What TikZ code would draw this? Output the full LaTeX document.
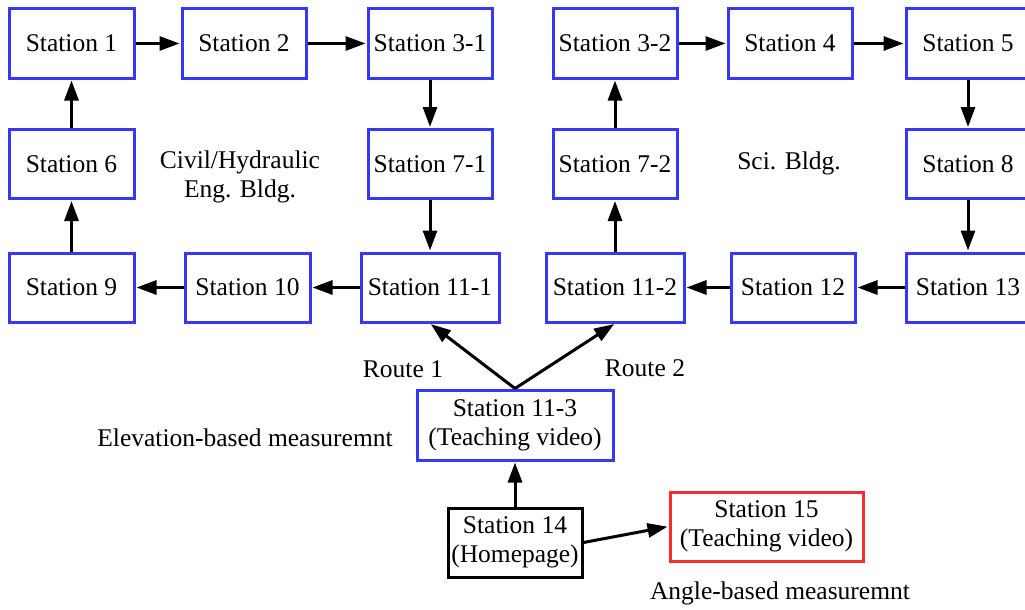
\documentclass[tikz,border=0pt]{standalone}
\usepackage{fontspec}
\setmainfont{Liberation Serif}
\usetikzlibrary{arrows.meta}
\definecolor{boxblue}{RGB}{55,55,250}
\definecolor{boxred}{RGB}{245,45,45}
\begin{document}
\begin{tikzpicture}[x=1pt,y=-1pt,
  every node/.style={font=\fontsize{25.5}{29}\selectfont, inner sep=0pt, align=center},
  st/.style={draw=boxblue, line width=3pt, minimum width=124pt, minimum height=69pt, fill=white},
  stw/.style={st, minimum width=138pt},
  conn/.style={line width=3pt, -{Triangle[length=20pt,width=14pt]}, shorten >=1pt}]
\useasboundingbox (0,0) rectangle (1025,610);
\clip (0,0) rectangle (1025,610);
% Left block
\node[st, minimum width=125pt] (s1) at (71.5,43.5) {Station 1};
\node[st] (s2) at (244,43.5) {Station 2};
\node[st] (s31) at (430,43.5) {Station 3-1};
\node[st, minimum width=125pt] (s6) at (71.5,164) {Station 6};
\node[st] (s71) at (430,164) {Station 7-1};
\node[st, minimum width=125pt] (s9) at (71.5,287.5) {Station 9};
\node[st, minimum width=125pt] (s10) at (247.5,287.5) {Station 10};
\node[stw] (s111) at (430,287.5) {Station 11-1};
% Right block
\node[st] (s32) at (615,43.5) {Station 3-2};
\node[st] (s4) at (790,43.5) {Station 4};
\node[st] (s5) at (968,43.5) {Station 5};
\node[st] (s72) at (615,164) {Station 7-2};
\node[st] (s8) at (968,164) {Station 8};
\node[stw] (s112) at (615,287.5) {Station 11-2};
\node[st] (s12) at (793,287.5) {Station 12};
\node[st] (s13) at (968,287.5) {Station 13};
% Bottom
\node[st, minimum width=196pt, minimum height=70pt] (s113) at (515,425) {Station 11-3\\(Teaching video)};
\node[st, draw=black, minimum width=134pt] (s14) at (515,542.5) {Station 14\\(Homepage)};
\node[st, draw=boxred, minimum width=193pt] (s15) at (766.5,526.5) {Station 15\\(Teaching video)};
% Labels
\node (civ) at (240,177) {Civil/Hydraulic\\Eng. Bldg.};
\node (sci) at (789,163) {Sci. Bldg.};
\node (r1) at (403,369) {Route 1};
\node (r2) at (645,368) {Route 2};
\node (elev) at (245,438) {Elevation-based measuremnt};
\node (ang) at (780,593) {Angle-based measuremnt};
% Connectors
\draw[conn] (s1) -- (s2);
\draw[conn] (s2) -- (s31);
\draw[conn] (s31) -- (s71);
\draw[conn] (s71) -- (s111);
\draw[conn] (s111) -- (s10);
\draw[conn] (s10) -- (s9);
\draw[conn] (s9) -- (s6);
\draw[conn] (s6) -- (s1);
\draw[conn] (s32) -- (s4);
\draw[conn] (s4) -- (s5);
\draw[conn] (s5) -- (s8);
\draw[conn] (s8) -- (s13);
\draw[conn] (s13) -- (s12);
\draw[conn] (s12) -- (s112);
\draw[conn] (s112) -- (s72);
\draw[conn] (s72) -- (s32);
\draw[conn] (s113.north) -- (s111.south);
\draw[conn] (s113.north) -- (s112.south);
\draw[conn] (s14) -- (s113);
\draw[conn] (s14.east) -- (s15.west);
\end{tikzpicture}
\end{document}
